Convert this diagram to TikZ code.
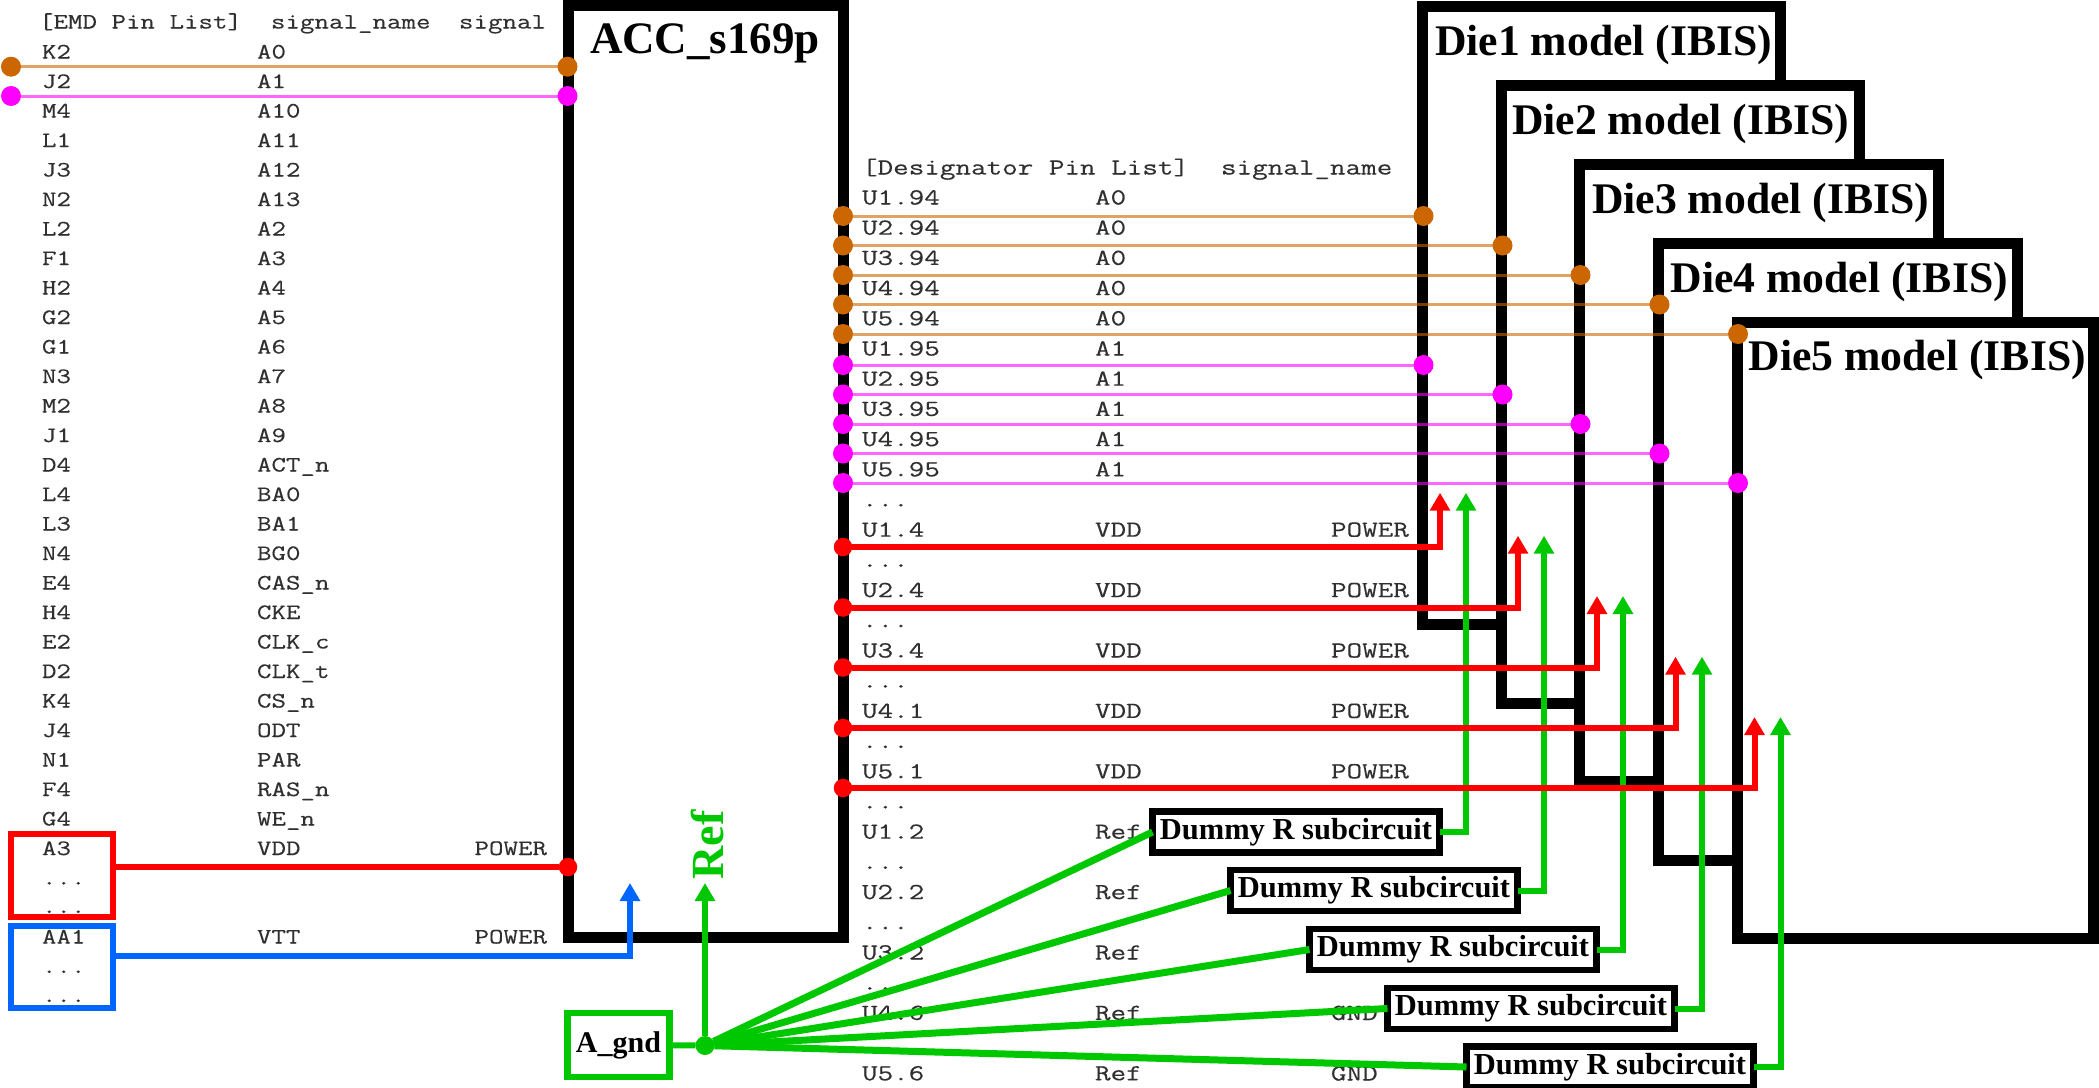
\documentclass[tikz,border=0pt]{standalone}
\usepackage{fontspec}
\usetikzlibrary{arrows.meta}
\setmainfont{Liberation Serif}
\newfontfamily\cn[FakeStretch=1.28,FakeBold=0.25]{Latin Modern Mono}
\newfontfamily\cnr[FakeStretch=1.315,FakeBold=0.25]{Latin Modern Mono}
\definecolor{cOrange}{HTML}{CC6600}
\definecolor{cMag}{HTML}{FF00FF}
\definecolor{cGreen}{HTML}{00C800}
\definecolor{cRed}{HTML}{FF0000}
\definecolor{cBlue}{HTML}{0066FF}
\definecolor{cText}{HTML}{303030}
\tikzset{
  x=1pt,y=-1pt,
  tbl/.style={anchor=base west,inner sep=0pt,outer sep=0pt,text=cText,font=\cn\fontsize{22}{22}\selectfont},
  tblr/.style={anchor=base west,inner sep=0pt,outer sep=0pt,text=cText,font=\cnr\fontsize{23}{23}\selectfont},
  bigl/.style={anchor=base west,inner sep=0pt,outer sep=0pt,text=black,font=\bfseries\fontsize{43.7}{44}\selectfont},
  framebox/.style={draw=black,fill=white,line width=11pt,anchor=north west,inner sep=0pt,outer sep=0pt},
  dummyb/.style={draw=black,fill=white,line width=6.5pt,anchor=center,inner sep=0pt,outer sep=0pt,minimum width=287pt,minimum height=41pt,font=\bfseries\fontsize{30.5}{31}\selectfont},
  dot/.style={circle,fill=#1,inner sep=0pt,outer sep=0pt,minimum size=20pt},
  thinw/.style={draw=#1,line width=3pt,opacity=.6},
  thick/.style={draw=#1,line width=6pt},
  arr/.style={-{Triangle[width=19.5pt,length=18pt]}},
  colbox/.style={draw=#1,line width=6pt,anchor=north west,inner sep=0pt,outer sep=0pt,minimum width=102pt}
}
\begin{document}
\begin{tikzpicture}
\useasboundingbox (0,0) rectangle (2099,1087);
\clip (0,0) rectangle (2099,1087);
\fill[white] (0,0) rectangle (2099,1087);
% left table
\node[tbl] (lh1) at (39,28.5) {[EMD Pin List]};
\node[tbl] (lh2) at (271,28.5) {signal\_name};
\node[tbl] (lh3) at (459,28.5) {signal};
\foreach \p/\s [count=\i from 0] in {K2/A0,J2/A1,M4/A10,L1/A11,J3/A12,N2/A13,L2/A2,F1/A3,H2/A4,G2/A5,G1/A6,N3/A7,M2/A8,J1/A9,D4/ACT\_n,L4/BA0,L3/BA1,N4/BG0,E4/CAS\_n,H4/CKE,E2/CLK\_c,D2/CLK\_t,K4/CS\_n,J4/ODT,N1/PAR,F4/RAS\_n,G4/WE\_n,A3/VDD}{
  \node[tbl] (lp\i) at (42,58.5+29.5*\i) {\p};
  \node[tbl] (ls\i) at (257,58.5+29.5*\i) {\s};
}
\node[tbl] (lpw1) at (474.5,855) {POWER};
\node[tbl] (ld1) at (42,884.5) {...};
\node[tbl] (ld2) at (42,913) {...};
\node[tbl] (lp30) at (42,943.5) {AA1};
\node[tbl] (ls30) at (257,943.5) {VTT};
\node[tbl] (lpw2) at (474.5,943.5) {POWER};
\node[tbl] (ld3) at (42,973) {...};
\node[tbl] (ld4) at (42,1002) {...};
% ACC box
\node[framebox,minimum width=275pt,minimum height=932pt] (acc) at (568,5) {};
\node[bigl,font=\bfseries\fontsize{45}{45}\selectfont] (acct) at (590,53) {ACC\_s169p};
% dies
\node[framebox,minimum width=358pt,minimum height=618pt] (die1) at (1422.5,6) {};
\node[bigl] (die1t) at (1435,55) {Die1 model (IBIS)};
\node[framebox,minimum width=357.5pt,minimum height=618pt] (die2) at (1501.5,85) {};
\node[bigl] (die2t) at (1512,134) {Die2 model (IBIS)};
\node[framebox,minimum width=358.5pt,minimum height=617.5pt] (die3) at (1579.5,164) {};
\node[bigl] (die3t) at (1592,213) {Die3 model (IBIS)};
\node[framebox,minimum width=358.5pt,minimum height=617pt] (die4) at (1658.5,243) {};
\node[bigl] (die4t) at (1670.5,292) {Die4 model (IBIS)};
\node[framebox,minimum width=356pt,minimum height=616.5pt] (die5) at (1737,322) {};
\node[bigl] (die5t) at (1748.5,370) {Die5 model (IBIS)};
% right table
\node[tblr] (rh1) at (862,174.5) {[Designator Pin List]};
\node[tblr] (rh2) at (1221,174.5) {signal\_name};
\foreach \p/\s [count=\i from 0] in {U1.94/A0,U2.94/A0,U3.94/A0,U4.94/A0,U5.94/A0,U1.95/A1,U2.95/A1,U3.95/A1,U4.95/A1,U5.95/A1}{
  \node[tblr] (rp\i) at (862,204.5+30.2*\i) {\p};
  \node[tblr] (rs\i) at (1095,204.5+30.2*\i) {\s};
}
\foreach \p/\i in {U1.4/11,U2.4/13,U3.4/15,U4.1/17,U5.1/19}{
  \node[tblr] (rq\i) at (862,204.5+30.2*\i) {\p};
  \node[tblr] (rv\i) at (1095,204.5+30.2*\i) {VDD};
  \node[tblr] (rw\i) at (1331,204.5+30.2*\i) {POWER};
}
\foreach \i in {10,12,14,16,18,20,22,24,26}{
  \node[tblr] (rd\i) at (862,204.5+30.2*\i) {...};
}
\foreach \p/\i in {U1.2/21,U2.2/23,U3.2/25,U4.6/27,U5.6/29}{
  \node[tblr] (rq\i) at (862,204.5+30.2*\i) {\p};
  \node[tblr] (rv\i) at (1095,204.5+30.2*\i) {Ref};
}
\node[tblr] (rg27) at (1331,1020) {GND};
\node[tblr] (rg29) at (1331,1080.5) {GND};
% red / blue pin boxes
\node[colbox=cRed,minimum height=83pt] (redbox) at (11,834) {};
\node[colbox=cBlue,minimum height=82pt] (bluebox) at (11,926) {};
\coordinate (redstart) at (116,867);
\coordinate (bluestart) at (116,955.7);
\coordinate (bluetip) at (630,883);
\node[dot=cRed,minimum size=18.5pt] (reddot) at (568,867) {};
\draw[thick=cRed] (redstart) -- (reddot);
\draw[thick=cBlue,arr] (bluestart) -| (bluetip);
% thin signal lines
\node[dot=cOrange] (la0) at (11,66.7) {};
\node[dot=cOrange] (ra0) at (567.5,66.7) {};
\node[dot=cMag] (la1) at (11,96) {};
\node[dot=cMag] (ra1) at (567.5,96) {};
\draw[thinw=cOrange] (la0) -- (ra0);
\draw[thinw=cMag] (la1) -- (ra1);
\foreach \n/\x [count=\i from 0] in {1/1423.5,2/1502.5,3/1580.5,4/1659.5,5/1738}{
  \node[dot=cOrange] (oa\n) at (843,216+29.5*\i) {};
  \node[dot=cOrange] (ob\n) at (\x,216+29.5*\i) {};
  \node[dot=cMag] (ma\n) at (843,365+29.5*\i) {};
  \node[dot=cMag] (mb\n) at (\x,365+29.5*\i) {};
  \draw[thinw=cOrange] (oa\n) -- (ob\n);
  \draw[thinw=cMag] (ma\n) -- (mb\n);
}
% A_gnd and dummy subcircuits
\node[draw=cGreen,line width=6.5pt,inner sep=0pt,outer sep=0pt,minimum width=102pt,minimum height=64pt,font=\bfseries\fontsize{30}{30}\selectfont] (agnd) at (618.5,1045) {A\_gnd};
\node[dot=cGreen,minimum size=19pt] (gj) at (705,1045.5) {};
\coordinate (reftip) at (705,883);
\draw[thick=cGreen] (agnd) -- (gj);
\draw[thick=cGreen,arr] (gj) -- (reftip);
\node[rotate=90,inner sep=0pt,text=cGreen,font=\bfseries\fontsize{46}{46}\selectfont] (reft) at (708,845) {Ref};
\foreach \n/\bx/\by/\rx/\gx/\ty/\ry in {1/1296/832/1440/1466/492.7/547,2/1374/890.5/1518/1544/535.7/607.5,3/1453/949.5/1597/1623/596/667.5,4/1531/1008.5/1675.5/1702/656.7/728,5/1610/1067/1754.5/1780.5/717/788}{
  \coordinate (gt\n) at (\gx,\ty);
  \coordinate (rt\n) at (\rx,\ty);
  \node[dummyb] (dm\n) at (\bx,\by) {Dummy R subcircuit};
  \draw[line width=7pt,draw=cGreen] (gj) -- (dm\n.west);
  \draw[thick=cGreen,arr] (dm\n.east) -| (gt\n);
  \node[dot=cRed,minimum size=18.5pt] (rpd\n) at (843,\ry) {};
  \draw[thick=cRed,arr] (rpd\n) -| (rt\n);
}
\end{tikzpicture}
\end{document}
